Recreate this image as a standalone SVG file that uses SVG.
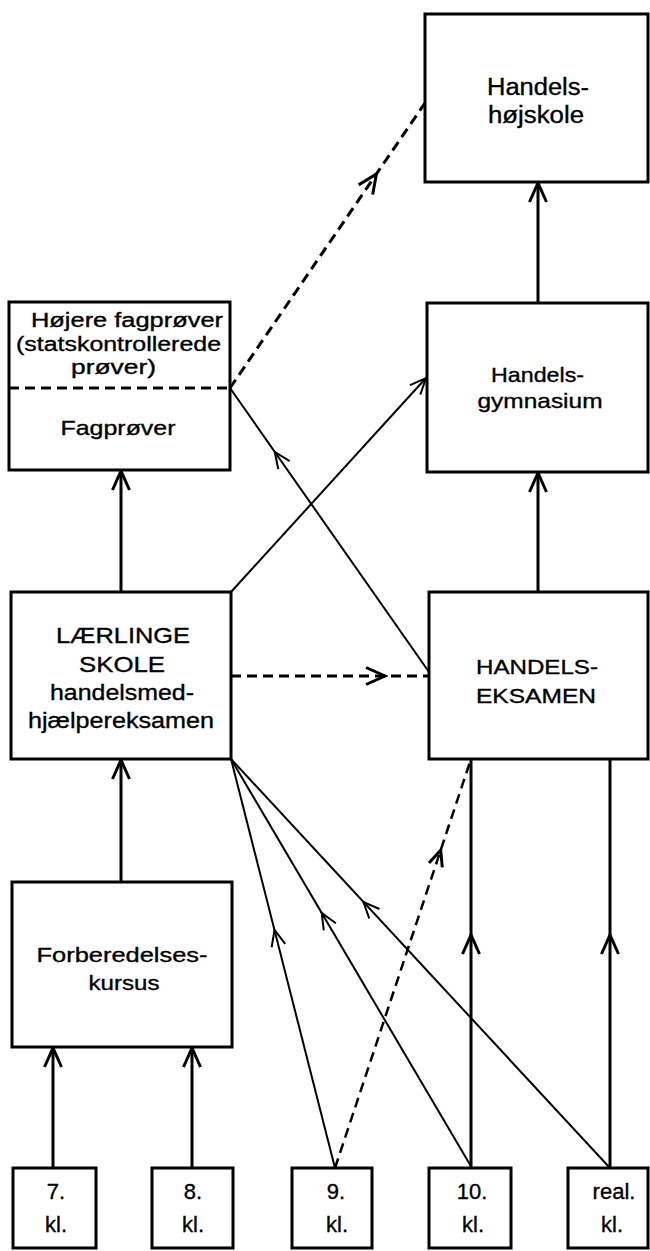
<svg xmlns="http://www.w3.org/2000/svg" xmlns:xlink="http://www.w3.org/1999/xlink" width="650" height="1251" viewBox="0 0 650 1251">
<style>
.box{fill:#fff;stroke:#000;stroke-width:3}
.t{font-family:"Liberation Sans",Arial,Helvetica,sans-serif;font-size:21px;fill:#000;stroke:#000;stroke-width:0.35;text-anchor:middle}
.s{font-size:22px}
.thick{stroke:#000;stroke-width:3;fill:none}
.thin{stroke:#000;stroke-width:2;fill:none}
.dash{stroke:#000;stroke-width:3;fill:none;stroke-dasharray:10 6}
.dash2{stroke:#000;stroke-width:2.5;fill:none;stroke-dasharray:10 6}
.chL{stroke:#000;stroke-width:3;fill:none;stroke-linejoin:miter}
.chS{stroke:#000;stroke-width:2;fill:none;stroke-linejoin:miter}
</style>
<defs>
<path id="chevL" class="chL" d="M-8.5,19 L0,0 L8.5,19"/>
<path id="chevS" class="chS" d="M-7,16 L0,0 L7,16"/>
<path id="chevD" class="chL" d="M-7,16 L0,0 L7,16"/>
</defs>
<rect width="650" height="1251" fill="#fff"/>

<g id="connectors">
  <line class="thick" x1="538" y1="303" x2="538" y2="183"/>
  <use xlink:href="#chevL" transform="translate(538,183)"/>
  <line class="thick" x1="538" y1="592" x2="538" y2="473"/>
  <use xlink:href="#chevL" transform="translate(538,473)"/>
  <line class="thick" x1="121" y1="592" x2="121" y2="471"/>
  <use xlink:href="#chevL" transform="translate(121,471)"/>
  <line class="thick" x1="121" y1="882" x2="121" y2="760"/>
  <use xlink:href="#chevL" transform="translate(121,760)"/>
  <line class="thick" x1="53" y1="1168" x2="53" y2="1048"/>
  <use xlink:href="#chevL" transform="translate(53,1048)"/>
  <line class="thick" x1="192" y1="1168" x2="192" y2="1048"/>
  <use xlink:href="#chevL" transform="translate(192,1048)"/>
  <line class="thick" x1="471" y1="1168" x2="471" y2="759"/>
  <use xlink:href="#chevL" transform="translate(471,935)"/>
  <line class="thick" x1="610" y1="1168" x2="610" y2="759"/>
  <use xlink:href="#chevL" transform="translate(610,935)"/>
  <line class="thin" x1="335" y1="1168" x2="231" y2="759"/>
  <use xlink:href="#chevS" transform="translate(274.5,930) rotate(-14.27)"/>
  <line class="thin" x1="472" y1="1168" x2="231" y2="759"/>
  <use xlink:href="#chevS" transform="translate(321.7,913) rotate(-30.5)"/>
  <line class="thin" x1="610" y1="1168" x2="231" y2="759"/>
  <use xlink:href="#chevS" transform="translate(363.5,902) rotate(-42.8)"/>
  <line class="dash2" x1="335" y1="1168" x2="471" y2="759"/>
  <use xlink:href="#chevD" transform="translate(440.7,850) rotate(18.4)"/>
  <line class="dash" x1="231" y1="676" x2="429" y2="676"/>
  <use xlink:href="#chevL" transform="translate(385,676) rotate(90)"/>
  <line class="thin" x1="231" y1="592" x2="426" y2="378"/>
  <use xlink:href="#chevS" transform="translate(426,378) rotate(42.5)"/>
  <line class="thin" x1="429" y1="672" x2="230" y2="388"/>
  <use xlink:href="#chevS" transform="translate(274.8,452) rotate(-35)"/>
  <line class="dash" x1="230" y1="388" x2="425" y2="103"/>
  <use xlink:href="#chevL" transform="translate(376.4,174) rotate(34.4)"/>
</g>

<g id="hojskole">
  <rect class="box" x="425" y="14" width="223" height="168"/>
  <text class="t" style="font-size:23px" x="538" y="95" textLength="102" lengthAdjust="spacingAndGlyphs">Handels-</text>
  <text class="t" style="font-size:23px" x="536" y="123" textLength="96" lengthAdjust="spacingAndGlyphs">højskole</text>
</g>

<g id="fagprover">
  <rect class="box" x="9" y="302" width="221" height="168"/>
  <line class="dash" x1="9" y1="388" x2="230" y2="388"/>
  <text class="t" style="font-size:20px" x="127" y="327" textLength="192" lengthAdjust="spacingAndGlyphs">Højere fagprøver</text>
  <text class="t" style="font-size:20px" x="118.5" y="351" textLength="205" lengthAdjust="spacingAndGlyphs">(statskontrollerede</text>
  <text class="t" style="font-size:20px" x="113.5" y="374" textLength="85" lengthAdjust="spacingAndGlyphs">prøver)</text>
  <text class="t" x="118" y="435" textLength="115" lengthAdjust="spacingAndGlyphs">Fagprøver</text>
</g>

<g id="gymnasium">
  <rect class="box" x="427" y="303" width="221" height="169"/>
  <text class="t" x="537.5" y="382" textLength="93" lengthAdjust="spacingAndGlyphs">Handels-</text>
  <text class="t" x="540" y="408" textLength="125" lengthAdjust="spacingAndGlyphs">gymnasium</text>
</g>

<g id="laerlinge">
  <rect class="box" x="11" y="592" width="220" height="167"/>
  <text class="t" style="font-size:22px" x="123" y="643" textLength="134" lengthAdjust="spacingAndGlyphs">LÆRLINGE</text>
  <text class="t" style="font-size:22px" x="122" y="672" textLength="86" lengthAdjust="spacingAndGlyphs">SKOLE</text>
  <text class="t" style="font-size:22px" x="122" y="700" textLength="144" lengthAdjust="spacingAndGlyphs">handelsmed-</text>
  <text class="t" style="font-size:22px" x="121" y="728" textLength="186" lengthAdjust="spacingAndGlyphs">hjælpereksamen</text>
</g>

<g id="handelseksamen">
  <rect class="box" x="429" y="592" width="219" height="167"/>
  <text class="t" x="537" y="674" textLength="122" lengthAdjust="spacingAndGlyphs">HANDELS-</text>
  <text class="t" x="536" y="703" textLength="120" lengthAdjust="spacingAndGlyphs">EKSAMEN</text>
</g>

<g id="forberedelse">
  <rect class="box" x="12" y="882" width="220" height="165"/>
  <text class="t" x="122" y="962" textLength="171" lengthAdjust="spacingAndGlyphs">Forberedelses-</text>
  <text class="t" x="124" y="990" textLength="71" lengthAdjust="spacingAndGlyphs">kursus</text>
</g>

<g id="kl7">
  <rect class="box" x="13" y="1168" width="83" height="80"/>
  <text class="t s" x="56" y="1199">7.</text>
  <text class="t s" x="56" y="1232">kl.</text>
</g>
<g id="kl8">
  <rect class="box" x="152" y="1168" width="81" height="80"/>
  <text class="t s" x="193" y="1199">8.</text>
  <text class="t s" x="193" y="1232">kl.</text>
</g>
<g id="kl9">
  <rect class="box" x="292" y="1168" width="80" height="80"/>
  <text class="t s" x="336" y="1199">9.</text>
  <text class="t s" x="337" y="1232">kl.</text>
</g>
<g id="kl10">
  <rect class="box" x="429" y="1168" width="82" height="80"/>
  <text class="t s" x="472" y="1199">10.</text>
  <text class="t s" x="473" y="1232">kl.</text>
</g>
<g id="klreal">
  <rect class="box" x="568" y="1168" width="80" height="80"/>
  <text class="t s" x="614" y="1199">real.</text>
  <text class="t s" x="612" y="1232">kl.</text>
</g>
</svg>
